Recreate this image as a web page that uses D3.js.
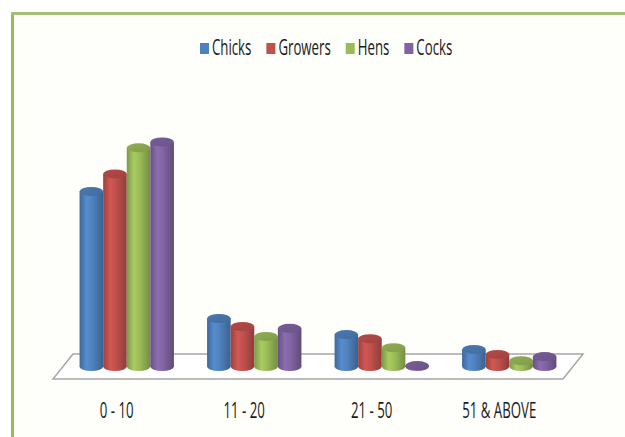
<!DOCTYPE html>
<html>
<head>
<meta charset="utf-8">
<script src="https://cdn.jsdelivr.net/npm/d3@7"></script>
<style>
  body { margin: 0; background: #ffffff; }
  text { font-family: "Open Sans", "DejaVu Sans", sans-serif; fill: #1a1a1a; }
</style>
</head>
<body>
<div id="chart"></div>
<script>
// data
var categories = ["0 - 10", "11 - 20", "21 - 50", "51 & ABOVE"];
var series = ["Chicks", "Growers", "Hens", "Cocks"];
var chicks = [39, 10.7, 7.1, 3.8];
var growers = [42.9, 8.9, 6.2, 2.7];
var hens = [48.7, 6.7, 4.2, 1.3];
var cocks = [50, 8.5, 0.2, 2.2];
var colors = ["#4f81bd", "#c0504d", "#9bbb59", "#8064a2"];

var values = [chicks, growers, hens, cocks];
var width = 625, height = 437;
var depth = 20;     // floor shift back-to-front (px)
var sx = 0.63;      // narrow the text like the original font

var svg = d3.select("#chart").append("svg")
  .attr("width", width)
  .attr("height", height);

// frame
svg.append("rect")
  .attr("x", 14).attr("y", 14)
  .attr("width", width - 14).attr("height", height - 14)
  .attr("fill", "#fefefa");
svg.append("line")
  .attr("x1", 12.5).attr("y1", 12).attr("x2", 12.5).attr("y2", height)
  .attr("stroke", "#9bbb59").attr("stroke-width", 3);
svg.append("line")
  .attr("x1", 11).attr("y1", 13.5).attr("x2", width).attr("y2", 13.5)
  .attr("stroke", "#a6bf78").attr("stroke-width", 3);

// scales (bar plane sits in the middle of the floor depth)
var x0 = d3.scaleBand()
  .domain(categories)
  .range([63, 573])
  .paddingInner(0.26)
  .paddingOuter(0.13);
var x1 = d3.scaleBand()
  .domain(series)
  .range([0, x0.bandwidth()]);
var floorBack = 354, floorFront = 379;
var base = (floorBack + floorFront) / 2;
var y = d3.scaleLinear().domain([0, 50]).range([base, 142]);

// gradients for cylinders
var defs = svg.append("defs");
colors.forEach(function (c, i) {
  var g = defs.append("linearGradient")
    .attr("id", "body" + i)
    .attr("x1", "0%").attr("x2", "100%").attr("y1", "0%").attr("y2", "0%");
  var col = d3.color(c);
  g.append("stop").attr("offset", "0%").attr("stop-color", col.darker(0.6));
  g.append("stop").attr("offset", "30%").attr("stop-color", col.brighter(0.25));
  g.append("stop").attr("offset", "55%").attr("stop-color", col);
  g.append("stop").attr("offset", "100%").attr("stop-color", col.darker(0.8));
  var t = defs.append("linearGradient")
    .attr("id", "top" + i)
    .attr("x1", "0%").attr("x2", "100%").attr("y1", "0%").attr("y2", "100%");
  t.append("stop").attr("offset", "0%").attr("stop-color", col.darker(0.2));
  t.append("stop").attr("offset", "100%").attr("stop-color", col.darker(0.5));
});

// floor
var xl = x0.range()[0], xr = x0.range()[1];
svg.append("path")
  .attr("d", "M" + (xl + depth / 2) + "," + floorBack +
    "L" + (xr + depth / 2) + "," + floorBack +
    "L" + (xr - depth / 2) + "," + floorFront +
    "L" + (xl - depth / 2) + "," + floorFront + "Z")
  .attr("fill", "#ffffff")
  .attr("stroke", "#a6a6a6")
  .attr("stroke-width", 1.5);

// cylinders
var ry = 4.5;
var bars = [];
categories.forEach(function (c, ci) {
  series.forEach(function (s, si) {
    bars.push({cat: c, ser: s, si: si, v: values[si][ci]});
  });
});
var cyl = svg.append("g").selectAll("g.cyl")
  .data(bars)
  .enter()
  .append("g")
  .attr("class", "cyl");

cyl.append("ellipse")
  .attr("cx", function (d) { return x0(d.cat) + x1(d.ser) + x1.bandwidth() / 2; })
  .attr("cy", base)
  .attr("rx", x1.bandwidth() / 2)
  .attr("ry", ry)
  .attr("fill", function (d) { return "url(#body" + d.si + ")"; });
cyl.append("rect")
  .attr("x", function (d) { return x0(d.cat) + x1(d.ser); })
  .attr("y", function (d) { return y(d.v); })
  .attr("width", x1.bandwidth())
  .attr("height", function (d) { return base - y(d.v); })
  .attr("fill", function (d) { return "url(#body" + d.si + ")"; });
cyl.append("ellipse")
  .attr("cx", function (d) { return x0(d.cat) + x1(d.ser) + x1.bandwidth() / 2; })
  .attr("cy", function (d) { return y(d.v); })
  .attr("rx", x1.bandwidth() / 2)
  .attr("ry", ry)
  .attr("fill", function (d) { return "url(#top" + d.si + ")"; });

// category labels
svg.append("g").selectAll("g.lbl")
  .data(categories)
  .enter()
  .append("g")
  .attr("transform", function (d) {
    return "translate(" + (x0(d) + x0.bandwidth() / 2 - depth / 2) + ",418) scale(" + sx + ",1)";
  })
  .append("text")
  .attr("text-anchor", "middle")
  .style("font-size", "21px")
  .text(function (d) { return d; });

// legend
var lx = 200;
var legend = svg.append("g");
series.forEach(function (s, i) {
  legend.append("rect")
    .attr("x", lx).attr("y", 43)
    .attr("width", 9).attr("height", 11)
    .attr("fill", colors[i]);
  var g = legend.append("g")
    .attr("transform", "translate(" + (lx + 12) + ",55) scale(" + sx + ",1)");
  var t = g.append("text")
    .style("font-size", "21px")
    .text(s);
  lx += 12 + t.node().getComputedTextLength() * sx + 15;
});
</script>
</body>
</html>
